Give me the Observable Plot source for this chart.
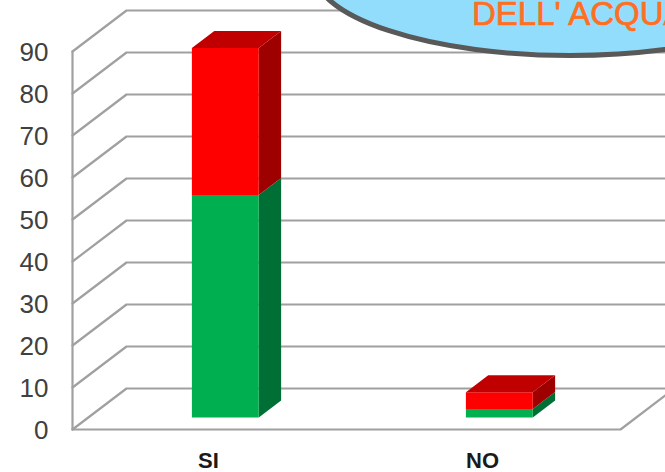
<!DOCTYPE html>
<html><head><meta charset="utf-8">
<style>html,body{margin:0;padding:0;background:#fff;overflow:hidden}svg{display:block}</style>
<script src="https://cdn.jsdelivr.net/npm/d3@7"></script>
<script src="https://cdn.jsdelivr.net/npm/@observablehq/plot@0.6"></script>
</head><body><div id="chart"></div>
<script>
const categories = ["SI", "NO"];
const verde = [53, 2];
const rosso = [35, 4];
const yTicks = [0, 10, 20, 30, 40, 50, 60, 70, 80, 90];
const faceColors = {
  greenFront: "#00B050", greenSide: "#006F35",
  redFront: "#FF0000", redSide: "#9E0000", redTop: "#C00000"
};
const titleText = "DELL' ACQUA";

// oblique projection: depth 0 = front plane, depth 1 = back wall
const depthX = 54 / 274, depthY = 41 / 4.2;
const P = (x, v, d) => ({x: x + d * depthX, y: v + d * depthY});
const barHalf = 0.122, d0 = 0.293, d1 = 0.707;

// wall / floor lines
const grid = [];
yTicks.forEach(t => {
  grid.push({id: "w" + t, ...P(0, t, 0)}, {id: "w" + t, ...P(0, t, 1)}, {id: "w" + t, ...P(categories.length, t, 1)});
});
grid.push({id: "axis", ...P(0, 0, 0)}, {id: "axis", ...P(0, 90, 0)});
grid.push({id: "floor", ...P(0, 0, 0)}, {id: "floor", ...P(categories.length, 0, 0)}, {id: "floor", ...P(categories.length, 0, 1)});

// bar faces
const faces = [];
let fid = 0;
const face = (color, pts) => { const id = fid++; pts.forEach(p => faces.push({id, color, ...p})); };
categories.forEach((c, i) => {
  const cx = i + 0.5, l = cx - barHalf, r = cx + barHalf;
  const segs = [[0, verde[i], "greenFront", "greenSide"], [verde[i], verde[i] + rosso[i], "redFront", "redSide"]];
  segs.forEach(([a, b, front, side]) => {
    face(faceColors[side], [P(r, a, d0), P(r, b, d0), P(r, b, d1), P(r, a, d1)]);
    face(faceColors[front], [P(l, a, d0), P(r, a, d0), P(r, b, d0), P(l, b, d0)]);
  });
  const t = verde[i] + rosso[i];
  face(faceColors.redTop, [P(l, t, d0), P(r, t, d0), P(r, t, d1), P(l, t, d1)]);
});

const bubble = () => {
  const g = d3.create("svg:g");
  g.append("ellipse").attr("cx", 570).attr("cy", -30).attr("rx", 257).attr("ry", 85.5)
    .attr("fill", "#92DDFB").attr("stroke", "#595959").attr("stroke-width", 5);
  g.append("text").attr("x", 472).attr("y", 24.5).text(titleText)
    .attr("text-anchor", "start")
    .attr("fill", "#FF6F1F").attr("stroke", "#FF6F1F").attr("stroke-width", 0.7)
    .attr("font-family", "'Liberation Sans',sans-serif").attr("font-size", 33);
  return g.node();
};

const plot = Plot.plot({
  width: 665, height: 472,
  margin: 0,
  style: {background: "#fff"},
  x: {type: "linear", domain: [0, 2], range: [72, 620], axis: null},
  y: {type: "linear", domain: [0, 90], range: [429, 51], axis: null},
  marks: [
    Plot.line(grid, {x: "x", y: "y", z: "id", stroke: "#A0A0A0", strokeWidth: 2.2, strokeLinejoin: "miter"}),
    Plot.line(faces, {x: "x", y: "y", z: "id", fill: "color", stroke: null}),
    Plot.text(yTicks, {x: () => 0, y: d => d, text: d => String(d), textAnchor: "end", dx: -24, dy: 1,
      fontSize: 26, fontFamily: "'Liberation Sans',sans-serif", fill: "#404040"}),
    Plot.text(categories, {x: (d, i) => i + 0.5, y: () => 0, text: d => d, dy: 31, dx: -1, textAnchor: "middle",
      fontSize: 22, fontWeight: "bold", fontFamily: "'Liberation Sans',sans-serif", fill: "#1a1a1a"}),
    bubble
  ]
});
document.getElementById("chart").append(plot);
</script></body></html>
